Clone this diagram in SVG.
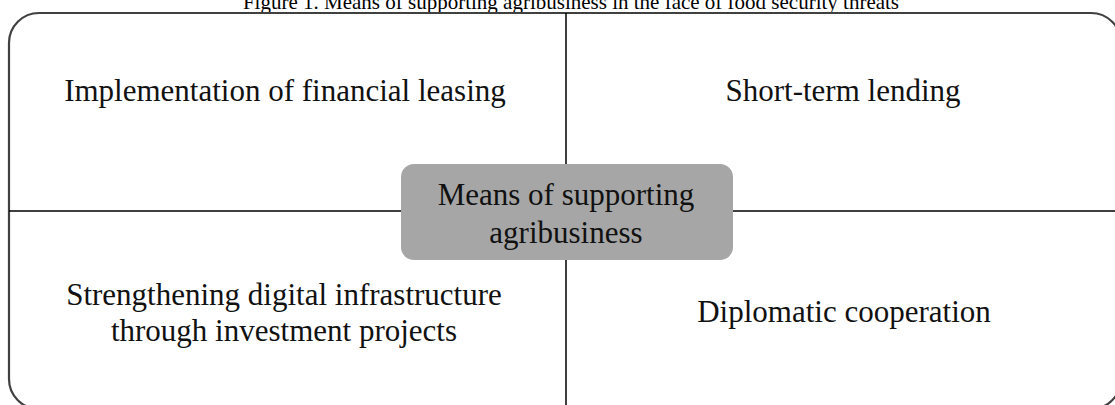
<svg xmlns="http://www.w3.org/2000/svg" width="1115" height="405" viewBox="0 0 1115 405">
<style>
.frame{fill:none;stroke:#404040;stroke-width:2.2}
.ln{stroke:#000;stroke-width:1.5;fill:none}
.t{font-family:"Liberation Serif","Times New Roman",serif;font-size:31px;fill:#111;text-anchor:middle}
.title{font-family:"Liberation Serif","Times New Roman",serif;font-size:21px;fill:#000;text-anchor:middle}
</style>
<rect width="1115" height="405" fill="#fff"/>
<text class="title" x="571" y="9">Figure 1. Means of supporting agribusiness in the face of food security threats</text>
<g id="frame"><rect class="frame" x="9" y="13" width="1112" height="396" rx="30" ry="30"/></g>
<g id="connectors">
<line class="ln" x1="566" y1="13" x2="566" y2="164"/>
<line class="ln" x1="566" y1="260" x2="566" y2="409"/>
<line class="ln" x1="9" y1="211" x2="401" y2="211"/>
<line class="ln" x1="733" y1="211" x2="1121" y2="211"/>
</g>
<g id="node-top-left"><text class="t" x="285" y="101">Implementation of financial leasing</text></g>
<g id="node-top-right"><text class="t" x="843" y="101">Short-term lending</text></g>
<g id="node-center">
<rect x="401" y="164" width="332" height="96" rx="13" ry="13" fill="#a6a6a6"/>
<text class="t" x="566" y="205">Means of supporting</text>
<text class="t" x="566" y="243">agribusiness</text>
</g>
<g id="node-bottom-left"><text class="t" x="284" y="305">Strengthening digital infrastructure</text><text class="t" x="284" y="341">through investment projects</text></g>
<g id="node-bottom-right"><text class="t" x="844" y="322">Diplomatic cooperation</text></g>
</svg>
